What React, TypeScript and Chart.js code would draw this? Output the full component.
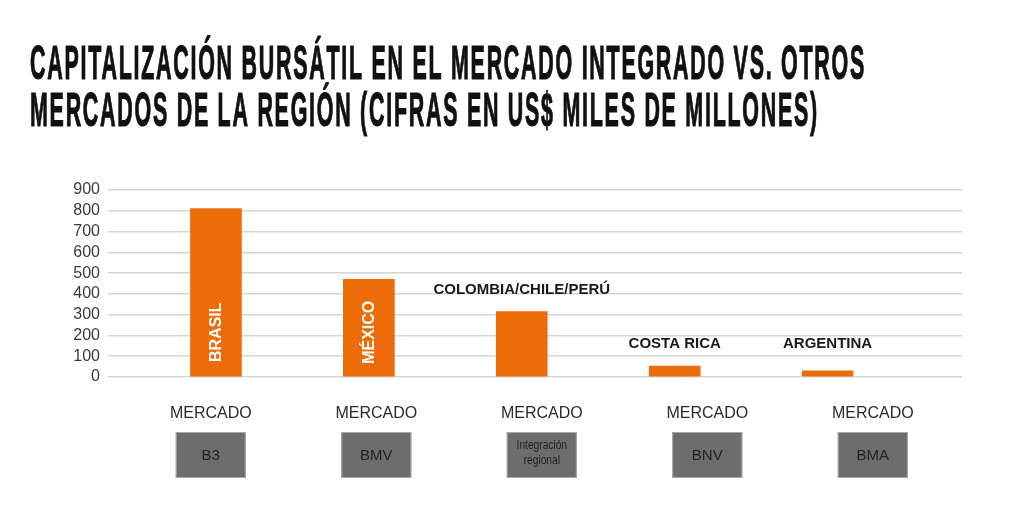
import React, { useEffect, useRef } from "react";
import { Chart, registerables } from "chart.js";

Chart.register(...registerables);

const titleLines = [
  "CAPITALIZACIÓN BURSÁTIL EN EL MERCADO INTEGRADO VS. OTROS",
  "MERCADOS DE LA REGIÓN (CIFRAS EN US$ MILES DE MILLONES)",
];
const categories = ["BRASIL", "MÉXICO", "COLOMBIA/CHILE/PERÚ", "COSTA RICA", "ARGENTINA"];
const values = [810, 470, 315, 52, 30];
const labelInside = [true, true, false, false, false];
const marketPrefix = ["MERCADO", "MERCADO", "MERCADO", "MERCADO", "MERCADO"];
const marketNames = [["B3"], ["BMV"], ["Integración", "regional"], ["BNV"], ["BMA"]];
const yMin = 0;
const yMax = 900;
const yStep = 100;

const ORANGE = "#EC6C0A";
const SANS = "'Liberation Sans', Arial, sans-serif";

const overlayPlugin = {
  id: "overlay",
  beforeDraw(chart: any) {
    const ctx = chart.ctx;
    ctx.save();
    ctx.fillStyle = "#ffffff";
    ctx.fillRect(0, 0, chart.width, chart.height);
    // title
    ctx.font = `bold 49px ${SANS}`;
    (ctx as any).letterSpacing = "4px";
    ctx.fillStyle = "#111111";
    ctx.strokeStyle = "#111111";
    ctx.lineWidth = 1.2;
    ctx.textBaseline = "alphabetic";
    ctx.textAlign = "left";
    const w0 = ctx.measureText(titleLines[0]).width;
    const sx = 836 / w0;
    const baselines = [79, 126];
    titleLines.forEach((t, i) => {
      ctx.save();
      ctx.translate(30, baselines[i]);
      ctx.scale(sx, 1);
      ctx.fillText(t, 0, 0);
      ctx.strokeText(t, 0, 0);
      ctx.restore();
    });
    (ctx as any).letterSpacing = "0px";
    ctx.restore();
  },
  afterDatasetsDraw(chart: any) {
    const ctx = chart.ctx;
    const meta = chart.getDatasetMeta(0);
    const yScale = chart.scales.y;
    const x2 = chart.scales.x2;
    ctx.save();
    meta.data.forEach((bar: any, i: number) => {
      const cx = bar.x;
      if (labelInside[i]) {
        ctx.save();
        ctx.translate(cx, bar.base - 44);
        ctx.rotate(-Math.PI / 2);
        ctx.font = `bold 16px ${SANS}`;
        ctx.fillStyle = "#ffffff";
        ctx.textAlign = "center";
        ctx.textBaseline = "middle";
        ctx.fillText(categories[i], 0, 1);
        ctx.restore();
      } else {
        const top = Math.min(bar.y, yScale.getPixelForValue(52));
        ctx.font = `bold 15px ${SANS}`;
        ctx.fillStyle = "#1a1a1a";
        ctx.textAlign = "center";
        ctx.textBaseline = "middle";
        ctx.fillText(categories[i], cx, top - 22);
      }
    });
    // bottom market labels
    for (let i = 0; i < categories.length; i++) {
      const mx = x2.getPixelForValue(i);
      ctx.font = `16px ${SANS}`;
      ctx.fillStyle = "#2b2b2b";
      ctx.textAlign = "center";
      ctx.textBaseline = "middle";
      ctx.fillText(marketPrefix[i], mx, 414);
      ctx.fillStyle = "#6d6d6d";
      ctx.fillRect(mx - 35, 432, 70, 46);
      ctx.strokeStyle = "#a8a8a8";
      ctx.lineWidth = 1;
      ctx.strokeRect(mx - 35 + 0.5, 432.5, 69, 45);
      ctx.fillStyle = "#222222";
      const lines = marketNames[i];
      if (lines.length === 1) {
        ctx.font = `15px ${SANS}`;
        ctx.fillText(lines[0], mx, 456);
      } else {
        ctx.font = `12px ${SANS}`;
        lines.forEach((l, j) => {
          ctx.save();
          ctx.translate(mx, 446 + j * 15);
          ctx.scale(0.85, 1);
          ctx.fillText(l, 0, 0);
          ctx.restore();
        });
      }
    }
    ctx.restore();
  },
};

export default function App() {
  const ref = useRef<HTMLCanvasElement | null>(null);
  useEffect(() => {
    if (!ref.current) return;
    const chart = new Chart(ref.current, {
      type: "bar",
      data: {
        datasets: [
          {
            label: "Capitalización",
            data: values.map((v, i) => ({ x: i, y: v })),
            backgroundColor: ORANGE,
            borderWidth: 0,
            barThickness: 51,
          },
        ],
      },
      options: {
        responsive: false,
        animation: false,
        devicePixelRatio: 1,
        layout: { padding: { top: 190, bottom: 145, left: 0, right: 52 } },
        plugins: { legend: { display: false }, tooltip: { enabled: false } },
        scales: {
          x: { type: "linear", min: -0.706, max: 4.879, offset: false, display: false },
          x2: { type: "linear", axis: "x", position: "bottom", min: -0.621, max: 4.539, offset: false, display: false },
          y: {
            min: yMin,
            max: yMax,
            ticks: {
              stepSize: yStep,
              autoSkip: false,
              color: "#3a3a3a",
              font: { size: 16, family: SANS },
              padding: 8,
            },
            grid: { color: "#d6d6d6", lineWidth: 1.5, drawTicks: false },
            border: { display: false },
            afterFit: (s: any) => {
              s.width = 108;
            },
          },
        },
      } as any,
      plugins: [overlayPlugin],
    });
    return () => chart.destroy();
  }, []);
  return (
    <div style={{ position: "fixed", left: 0, top: 0, width: 1014, height: 522, background: "#fff" }}>
      <canvas ref={ref} width={1014} height={522} />
    </div>
  );
}
